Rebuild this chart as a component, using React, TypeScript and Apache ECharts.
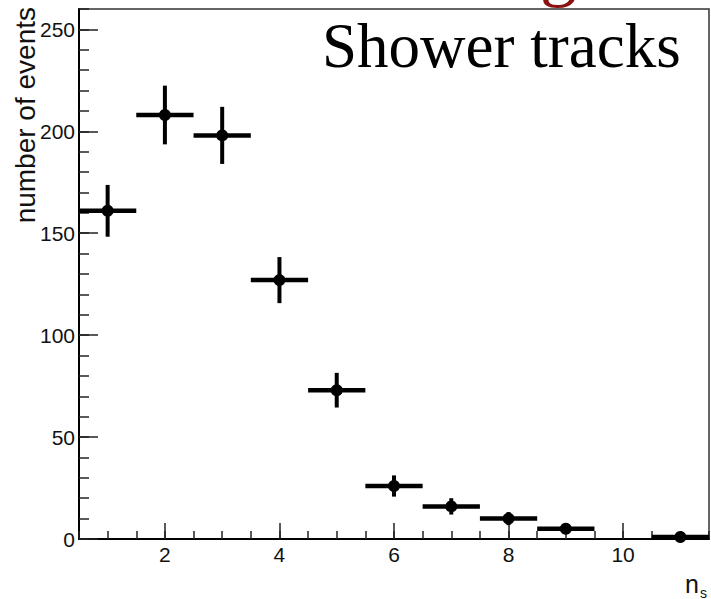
import React, { useEffect, useRef } from "react";
import * as echarts from "echarts";

// bin centres (n_s), number of events, statistical errors
const binCenters = [1, 2, 3, 4, 5, 6, 7, 8, 9, 10, 11];
const events = [161, 208, 198, 127, 73, 26, 16, 10, 5, 0, 1];
const errors = [12.7, 14.4, 14, 11.3, 8.5, 5.2, 4, 3.2, 2.2, 0, 1];
const binHalfWidth = 0.5;

const xMajorTicks = [2, 4, 6, 8, 10];
const yMajorTicks = [0, 50, 100, 150, 200, 250];

const yTitle = "number of events";
const plotLabel = "Shower tracks";

export default function App() {
  const ref = useRef<HTMLDivElement>(null);

  useEffect(() => {
    if (!ref.current) return;
    const chart = echarts.init(ref.current, null, { renderer: "svg" });
    const data = binCenters.map((x, i) => [x, events[i], errors[i]]);
    const sans = "Liberation Sans, Arial, sans-serif";
    const serif = "Liberation Serif, Times New Roman, serif";

    const option: any = {
      animation: false,
      backgroundColor: "#ffffff",
      grid: {
        left: 79,
        top: 9,
        right: 2,
        bottom: 60,
        show: true,
        borderColor: "#333",
        borderWidth: 1.5,
        backgroundColor: "transparent",
      },
      xAxis: [
        {
          type: "value",
          position: "bottom",
          min: 0.5,
          max: 11.5,
          interval: 0.5,
          axisLine: { show: true, lineStyle: { color: "#000", width: 2 } },
          axisTick: { show: true, inside: true, length: 8, lineStyle: { color: "#222", width: 1.5 } },
          axisLabel: { show: false },
          splitLine: { show: false },
        },
        {
          type: "value",
          position: "bottom",
          min: 0.5,
          max: 11.5,
          axisLine: { show: false },
          axisTick: {
            show: true,
            inside: true,
            length: 16,
            customValues: xMajorTicks,
            lineStyle: { color: "#222", width: 1.5 },
          },
          axisLabel: {
            show: true,
            customValues: xMajorTicks,
            margin: 5,
            color: "#111",
            fontSize: 21,
            fontFamily: sans,
          },
          splitLine: { show: false },
        },
      ],
      yAxis: [
        {
          type: "value",
          position: "left",
          min: 0,
          max: 260,
          interval: 10,
          axisLine: { show: true, lineStyle: { color: "#000", width: 2 } },
          axisTick: { show: true, inside: true, length: 10, lineStyle: { color: "#222", width: 1.5 } },
          axisLabel: { show: false },
          splitLine: { show: false },
        },
        {
          type: "value",
          position: "left",
          min: 0,
          max: 260,
          axisLine: { show: false },
          axisTick: {
            show: true,
            inside: true,
            length: 19,
            customValues: yMajorTicks,
            lineStyle: { color: "#222", width: 1.5 },
          },
          axisLabel: {
            show: true,
            customValues: yMajorTicks,
            margin: 4,
            color: "#111",
            fontSize: 21,
            fontFamily: sans,
          },
          splitLine: { show: false },
        },
      ],
      series: [
        {
          type: "custom",
          xAxisIndex: 0,
          yAxisIndex: 0,
          clip: false,
          data,
          renderItem: (params: any, api: any) => {
            const x = api.value(0);
            const y = api.value(1);
            const e = api.value(2);
            if (!(y > 0)) return null;
            const l = api.coord([x - binHalfWidth, y]);
            const r = api.coord([x + binHalfWidth, y]);
            const t = api.coord([x, y + e]);
            const b = api.coord([x, y - e]);
            const c = api.coord([x, y]);
            return {
              type: "group",
              children: [
                {
                  type: "line",
                  shape: { x1: l[0], y1: l[1], x2: r[0], y2: r[1] },
                  style: { stroke: "#000", lineWidth: 4.5 },
                },
                {
                  type: "line",
                  shape: { x1: t[0], y1: t[1], x2: b[0], y2: b[1] },
                  style: { stroke: "#000", lineWidth: 4 },
                },
                {
                  type: "circle",
                  shape: { cx: c[0], cy: c[1], r: 6 },
                  style: { fill: "#000" },
                },
              ],
            };
          },
        },
      ],
      graphic: [
        {
          type: "text",
          x: 39,
          y: 7,
          rotation: Math.PI / 2,
          style: {
            text: yTitle,
            font: `28px ${sans}`,
            fill: "#111",
            textAlign: "right",
            textVerticalAlign: "bottom",
          },
        },
        {
          type: "text",
          x: 322,
          y: 46,
          style: {
            text: plotLabel,
            font: `63px ${serif}`,
            fill: "#000",
            textAlign: "left",
            textVerticalAlign: "middle",
          },
        },
        {
          type: "text",
          x: 540,
          y: -33,
          style: {
            text: "g",
            font: `74px ${serif}`,
            fill: "#8b1010",
            textAlign: "left",
            textVerticalAlign: "middle",
          },
        },
        {
          type: "text",
          x: 685,
          y: 584,
          style: {
            text: "n",
            font: `25px ${sans}`,
            fill: "#111",
            textAlign: "left",
            textVerticalAlign: "middle",
          },
        },
        {
          type: "text",
          x: 700,
          y: 593,
          style: {
            text: "s",
            font: `14px ${sans}`,
            fill: "#111",
            textAlign: "left",
            textVerticalAlign: "middle",
          },
        },
      ],
    };

    chart.setOption(option);
    return () => chart.dispose();
  }, []);

  return (
    <div
      ref={ref}
      style={{ position: "fixed", left: 0, top: 0, width: 711, height: 599, background: "#fff" }}
    />
  );
}
